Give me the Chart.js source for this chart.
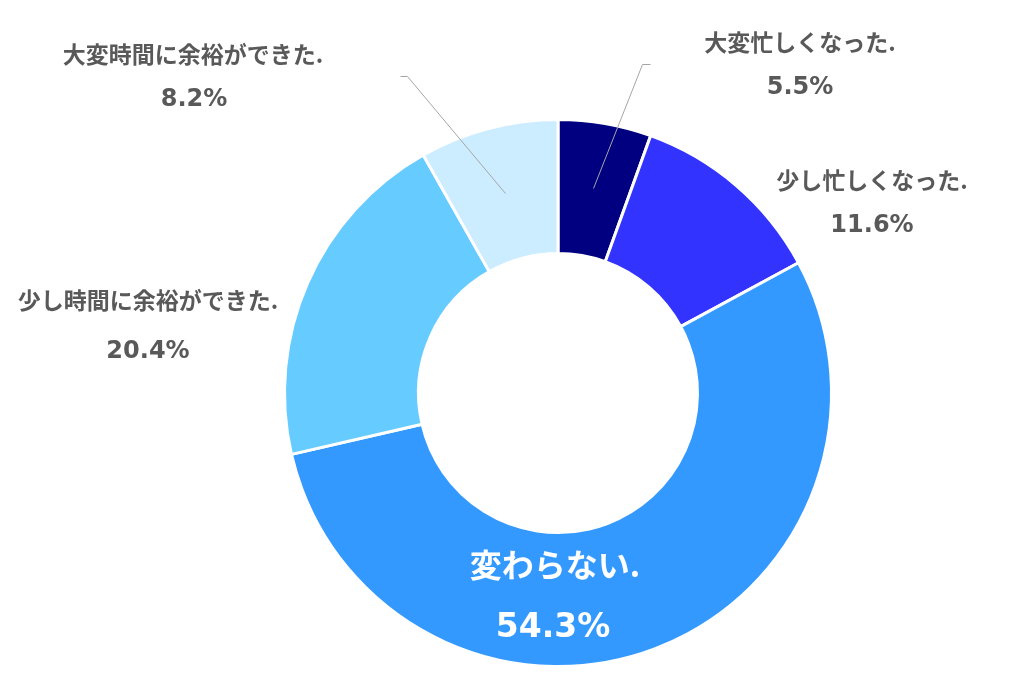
<!DOCTYPE html>
<html>
<head>
<meta charset="utf-8">
<script src="https://cdn.jsdelivr.net/npm/chart.js@4/dist/chart.umd.min.js"></script>
<style>
html,body{margin:0;padding:0;background:#fff;}
#wrap{width:1018px;height:683px;position:relative;}
</style>
</head>
<body>
<div id="wrap"><canvas id="c" width="1018" height="683"></canvas></div>
<script>
const categories = ['大変忙しくなった.', '少し忙しくなった.', '変わらない.', '少し時間に余裕ができた.', '大変時間に余裕ができた.'];
const values = [5.5, 11.6, 54.3, 20.4, 8.2];
const percentLabels = ['5.5%', '11.6%', '54.3%', '20.4%', '8.2%'];
const colors = ['#000080', '#3333FF', '#3399FF', '#66CCFF', '#CCECFF'];

// label placement (text anchor positions) and leader lines
const labelPos = [
  {nx: 800, ny: 42, px: 800, py: 88, color: '#595959', ns: 23, ps: 24, leader: [[650,64],[642,64],[593,188]]},
  {nx: 872, ny: 180, px: 872, py: 226, color: '#595959', ns: 23, ps: 24},
  {nx: 555, ny: 565, px: 553, py: 628, color: '#FFFFFF', ns: 32, ps: 33},
  {nx: 148, ny: 300, px: 148, py: 352, color: '#595959', ns: 23, ps: 24},
  {nx: 193, ny: 54, px: 194, py: 100, color: '#595959', ns: 23, ps: 24, leader: [[400,76],[407,76],[505,193]]}
];

const FONT = '"DejaVu Sans", "Noto Sans CJK JP", sans-serif';
const JPFONT = '"Noto Sans CJK JP", "DejaVu Sans", sans-serif';

const labelPlugin = {
  id: 'labels',
  afterDatasetsDraw(chart) {
    const ctx = chart.ctx;
    ctx.save();
    labelPos.forEach((p, i) => {
      if (p.leader) {
        ctx.strokeStyle = '#A6A6A6';
        ctx.lineWidth = 1;
        ctx.beginPath();
        ctx.moveTo(p.leader[0][0] + 0.5, p.leader[0][1] + 0.5);
        for (let k = 1; k < p.leader.length; k++) ctx.lineTo(p.leader[k][0] + 0.5, p.leader[k][1] + 0.5);
        ctx.stroke();
      }
      ctx.fillStyle = p.color;
      ctx.textAlign = 'center';
      ctx.textBaseline = 'middle';
      ctx.font = 'bold ' + p.ns + 'px ' + JPFONT;
      ctx.fillText(categories[i], p.nx, p.ny);
      ctx.font = 'bold ' + p.ps + 'px ' + FONT;
      ctx.fillText(percentLabels[i], p.px, p.py);
    });
    ctx.restore();
  }
};

new Chart(document.getElementById('c'), {
  type: 'doughnut',
  data: {
    labels: categories,
    datasets: [{
      data: values,
      backgroundColor: colors,
      borderColor: '#FFFFFF',
      borderWidth: 3
    }]
  },
  options: {
    responsive: false,
    animation: false,
    cutout: '51%',
    rotation: 0,
    layout: {padding: {left: 283, right: 185, top: 118, bottom: 15}},
    plugins: {
      legend: {display: false},
      tooltip: {enabled: false}
    }
  },
  plugins: [labelPlugin]
});
</script>
</body>
</html>
